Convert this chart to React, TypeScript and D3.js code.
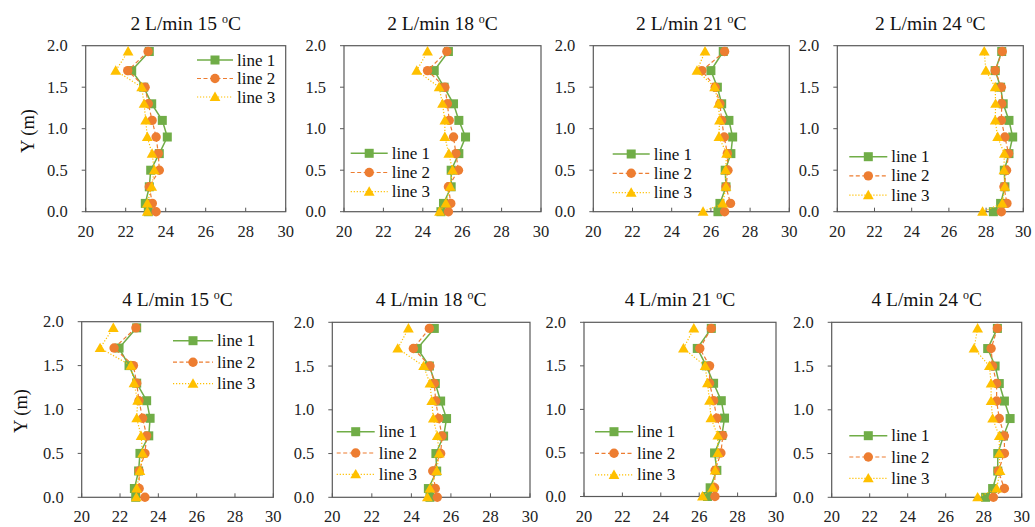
import React from "react";
import * as d3 from "d3";

// ---- Data ----
const heights = [1.93, 1.7, 1.5, 1.3, 1.1, 0.9, 0.7, 0.5, 0.3, 0.1, 0.0];
const xTicks = [20, 22, 24, 26, 28, 30];
const yTicks = [0, 0.5, 1.0, 1.5, 2.0];
const seriesNames = ["line 1", "line 2", "line 3"];
const flowRates = [2, 2, 2, 2, 4, 4, 4, 4];
const temperatures = [15, 18, 21, 24, 15, 18, 21, 24];

const f2t15_l1 = [23.18, 22.3, 22.9, 23.3, 23.83, 24.08, 23.68, 23.25, 23.18, 22.98, 23.13];
const f2t15_l2 = [23.12, 22.1, 22.97, 23.13, 23.32, 23.52, 23.63, 23.68, 23.18, 23.33, 23.52];
const f2t15_l3 = [22.12, 21.5, 22.8, 22.92, 23.0, 23.08, 23.32, 23.43, 23.3, 23.08, 23.08];

const f2t18_l1 = [25.3, 24.58, 25.08, 25.56, 25.83, 26.17, 25.83, 25.44, 25.44, 25.05, 24.92];
const f2t18_l2 = [25.22, 24.24, 25.12, 25.25, 25.34, 25.56, 25.68, 25.81, 25.3, 25.42, 25.3];
const f2t18_l3 = [24.24, 23.69, 24.83, 25.0, 25.12, 25.12, 25.32, 25.51, 25.39, 25.17, 24.85];

const f2t21_l1 = [26.63, 26.0, 26.33, 26.55, 26.92, 27.11, 27.02, 26.73, 26.77, 26.46, 26.36];
const f2t21_l2 = [26.7, 25.54, 26.22, 26.46, 26.55, 26.68, 26.84, 26.87, 26.77, 27.0, 26.7];
const f2t21_l3 = [25.7, 25.29, 26.19, 26.39, 26.44, 26.41, 26.8, 26.75, 26.77, 26.6, 25.6];

const f2t24_l1 = [28.84, 28.49, 28.78, 28.92, 29.23, 29.43, 29.23, 28.98, 29.01, 28.78, 28.39];
const f2t24_l2 = [28.87, 28.49, 28.82, 28.84, 28.82, 29.01, 29.21, 29.1, 28.96, 29.12, 28.82];
const f2t24_l3 = [27.9, 27.99, 28.49, 28.51, 28.49, 28.62, 28.98, 28.96, 29.01, 28.87, 27.81];

const f4t15_l1 = [22.87, 21.95, 22.47, 22.87, 23.39, 23.57, 23.5, 23.04, 22.97, 22.75, 22.82];
const f4t15_l2 = [22.83, 21.69, 22.7, 22.87, 22.99, 23.18, 23.39, 23.3, 23.0, 23.0, 23.3];
const f4t15_l3 = [21.65, 20.96, 22.57, 22.73, 22.92, 22.87, 23.1, 23.18, 23.04, 22.87, 22.85];

const f4t18_l1 = [25.16, 24.3, 24.91, 25.21, 25.48, 25.78, 25.63, 25.24, 25.28, 24.86, 24.94];
const f4t18_l2 = [24.91, 24.1, 24.94, 25.16, 25.23, 25.38, 25.55, 25.48, 25.08, 25.21, 25.31];
const f4t18_l3 = [23.85, 23.31, 24.62, 24.94, 25.03, 25.11, 25.31, 25.41, 25.28, 24.94, 24.81];

const f4t21_l1 = [26.63, 25.9, 26.37, 26.75, 27.15, 27.32, 27.18, 26.8, 26.92, 26.57, 26.43];
const f4t21_l2 = [26.63, 26.03, 26.54, 26.54, 26.75, 26.92, 27.23, 27.13, 26.83, 26.8, 26.82];
const f4t21_l3 = [25.72, 25.18, 26.31, 26.43, 26.54, 26.61, 26.97, 26.97, 26.83, 26.71, 26.17];

const f4t24_l1 = [28.72, 28.21, 28.6, 28.82, 29.09, 29.39, 29.04, 28.74, 28.74, 28.47, 28.1];
const f4t24_l2 = [28.72, 28.39, 28.47, 28.68, 28.68, 28.82, 29.09, 29.09, 28.77, 29.09, 28.51];
const f4t24_l3 = [27.68, 27.49, 28.3, 28.39, 28.39, 28.47, 28.82, 28.82, 28.86, 28.68, 27.68];

const panelSeries = [
  [f2t15_l1, f2t15_l2, f2t15_l3],
  [f2t18_l1, f2t18_l2, f2t18_l3],
  [f2t21_l1, f2t21_l2, f2t21_l3],
  [f2t24_l1, f2t24_l2, f2t24_l3],
  [f4t15_l1, f4t15_l2, f4t15_l3],
  [f4t18_l1, f4t18_l2, f4t18_l3],
  [f4t21_l1, f4t21_l2, f4t21_l3],
  [f4t24_l1, f4t24_l2, f4t24_l3],
];

// ---- Layout / style ----
const panels = [
  { l: 85.7, r: 285.7, t: 45.7, b: 211.7, lx: 197, ly: 60, ls: 18.5, lw: 36 },
  { l: 344, r: 541, t: 45.7, b: 211.7, lx: 350.7, ly: 153.3, ls: 19.2, lw: 37 },
  { l: 593.3, r: 789.3, t: 45.7, b: 211.7, lx: 612.7, ly: 154, ls: 19.3, lw: 37 },
  { l: 837.3, r: 1023.3, t: 45.7, b: 211.7, lx: 849.3, ly: 156.7, ls: 19.2, lw: 38 },
  { l: 81.7, r: 273.3, t: 321.7, b: 497.3, lx: 173, ly: 340.7, ls: 21.5, lw: 40 },
  { l: 332.3, r: 530, t: 322.3, b: 497.3, lx: 336.7, ly: 431.7, ls: 21.3, lw: 38 },
  { l: 584, r: 776, t: 322.3, b: 496.5, lx: 595, ly: 431.7, ls: 21.6, lw: 38 },
  { l: 831.7, r: 1021.7, t: 322.3, b: 497.3, lx: 849.3, ly: 435.7, ls: 21.3, lw: 38 },
];

const colors = ["#70AD47", "#ED7D31", "#FFC000"];
const dashes = ["none", "4,2.5", "1.2,1.8"];
const widths = [1.5, 1.2, 1.2];
const FONT = "Liberation Serif, Times New Roman, DejaVu Serif, serif";
const AXIS = "#595959";
const txt = { fontFamily: FONT };

function Marker({ type, x, y }: { type: number; x: number; y: number }) {
  const c = colors[type];
  if (type === 0) return <rect x={x - 4.5} y={y - 4.5} width={9} height={9} fill={c} />;
  if (type === 1) return <circle cx={x} cy={y} r={4.7} fill={c} />;
  const s = 5.4;
  return (
    <path
      d={`M${x},${y - s}L${x + s},${y + s * 0.75}L${x - s},${y + s * 0.75}Z`}
      fill={c}
    />
  );
}

function Panel({ idx }: { idx: number }) {
  const p = panels[idx];
  const x = d3.scaleLinear().domain([20, 30]).range([p.l, p.r]);
  const y = d3.scaleLinear().domain([0, 2]).range([p.b, p.t]);
  const series = panelSeries[idx];
  const line = d3
    .line<[number, number]>()
    .x((d) => x(d[0]))
    .y((d) => y(d[1]));
  const cx = (p.l + p.r) / 2;
  return (
    <g>
      <text x={cx} y={p.t - 16} textAnchor="middle" style={txt} fontSize={19.5} fill="#111">
        {`${flowRates[idx]} L/min ${temperatures[idx]} `}
        <tspan fontSize={12} dy={-7}>o</tspan>
        <tspan dy={7}>C</tspan>
      </text>
      <rect x={p.l} y={p.t} width={p.r - p.l} height={p.b - p.t} fill="none" stroke={AXIS} strokeWidth={1.2} />
      {xTicks.map((v) => (
        <g key={"x" + v}>
          <line x1={x(v)} x2={x(v)} y1={p.b} y2={p.b - 4} stroke={AXIS} strokeWidth={1} />
          <text x={x(v)} y={p.b + 25} textAnchor="middle" style={txt} fontSize={16.5} fill="#222">
            {v}
          </text>
        </g>
      ))}
      {yTicks.map((v) => (
        <g key={"y" + v}>
          <line x1={p.l - 4} x2={p.l} y1={y(v)} y2={y(v)} stroke={AXIS} strokeWidth={1} />
          <text x={p.l - 18} y={y(v) + 5.5} textAnchor="end" style={txt} fontSize={16.5} fill="#222">
            {v.toFixed(1)}
          </text>
        </g>
      ))}
      {series.map((vals, si) => {
        const pts: [number, number][] = vals.map((v, i) => [v, heights[i]]);
        return (
          <g key={"s" + si}>
            <path
              d={line(pts) || ""}
              fill="none"
              stroke={colors[si]}
              strokeWidth={widths[si]}
              strokeDasharray={dashes[si]}
            />
            {pts.map((d, i) => (
              <Marker key={i} type={si} x={x(d[0])} y={y(d[1])} />
            ))}
          </g>
        );
      })}
      {seriesNames.map((name, si) => {
        const ry = p.ly + si * p.ls;
        return (
          <g key={"l" + si}>
            <line
              x1={p.lx}
              x2={p.lx + p.lw}
              y1={ry}
              y2={ry}
              stroke={colors[si]}
              strokeWidth={widths[si]}
              strokeDasharray={dashes[si]}
            />
            <Marker type={si} x={p.lx + p.lw / 2} y={ry} />
            <text x={p.lx + p.lw + 4} y={ry + 5.5} style={txt} fontSize={17} fill="#111">
              {name}
            </text>
          </g>
        );
      })}
    </g>
  );
}

export default function App() {
  return (
    <svg
      width={1035}
      height={527}
      style={{ position: "absolute", left: 0, top: 0, background: "#fff" }}
    >
      <rect x={0} y={0} width={1035} height={527} fill="#fff" />
      <text
        transform="translate(34,131) rotate(-90)"
        textAnchor="middle"
        style={txt}
        fontSize={18.5}
        fill="#111"
      >
        Y (m)
      </text>
      <text
        transform="translate(27,411) rotate(-90)"
        textAnchor="middle"
        style={txt}
        fontSize={18.5}
        fill="#111"
      >
        Y (m)
      </text>
      {panels.map((_, i) => (
        <Panel key={i} idx={i} />
      ))}
    </svg>
  );
}
